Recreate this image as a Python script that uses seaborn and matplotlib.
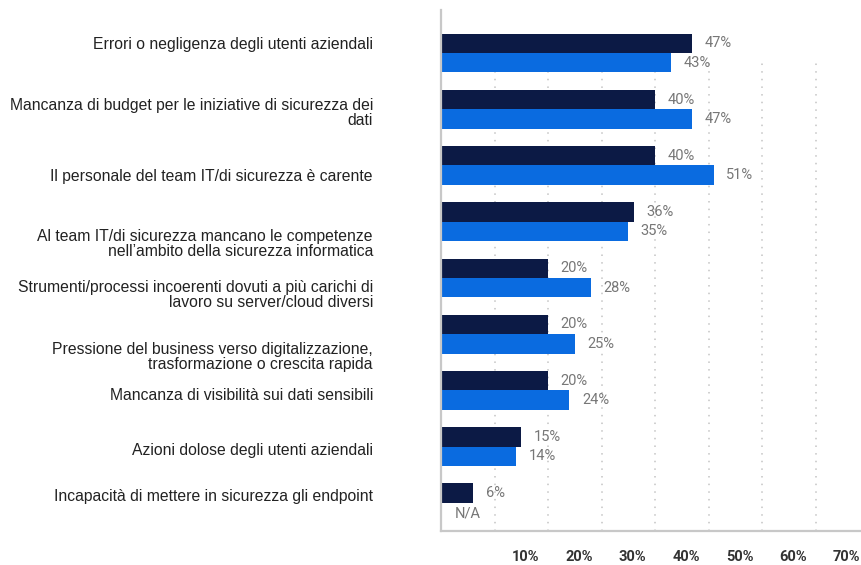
import matplotlib
matplotlib.use("Agg")
import matplotlib.pyplot as plt
import matplotlib.transforms as mtransforms
import seaborn as sns
import pandas as pd
import numpy as np

categories = [
    "Errori o negligenza degli utenti aziendali",
    "Mancanza di budget per le iniziative di sicurezza dei\ndati",
    "Il personale del team IT/di sicurezza è carente",
    "Al team IT/di sicurezza mancano le competenze\nnell’ambito della sicurezza informatica",
    "Strumenti/processi incoerenti dovuti a più carichi di\nlavoro su server/cloud diversi",
    "Pressione del business verso digitalizzazione,\ntrasformazione o crescita rapida",
    "Mancanza di visibilità sui dati sensibili",
    "Azioni dolose degli utenti aziendali",
    "Incapacità di mettere in sicurezza gli endpoint",
]
series_names = ["A", "B"]
series_a = [47, 40, 40, 36, 20, 20, 20, 15, 6]
series_b = [43, 47, 51, 35, 28, 25, 24, 14, np.nan]
x_ticks = [10, 20, 30, 40, 50, 60, 70]
x_tick_labels = ["10%", "20%", "30%", "40%", "50%", "60%", "70%"]

# layout: vertical offset of each category label relative to its bar group
label_offsets = [-0.16, 0.06, 0.2, 0.4, 0.30, 0.40, 0.09, 0.06, -0.11]

colors = ["#0c1a45", "#0a6be0"]

df = pd.DataFrame({
    "cat": categories * 2,
    "series": [series_names[0]] * len(categories) + [series_names[1]] * len(categories),
    "value": series_a + series_b,
})

sns.set_style("white")
fig = plt.figure(figsize=(8.61, 5.65), dpi=100)
ax = fig.add_axes([441 / 861, 1 - 531 / 565, 420 / 861, 521 / 565])

sns.barplot(data=df, y="cat", x="value", hue="series", order=categories,
            hue_order=series_names, palette=colors, orient="h", width=0.69,
            dodge=True, ax=ax, legend=False, saturation=1, errorbar=None)

for patch in ax.patches:
    patch.set_edgecolor("none")
    patch.set_zorder(2)

ax.set_xlim(0, 78.5)
ax.set_ylim(len(categories) - 0.5, -0.765)

# grid (dotted, starting below the first group)
for xv in x_ticks:
    ax.axvline(xv, ymin=0, ymax=(531 - 58) / 521, color="#c4c4c4",
               linestyle=(0, (1, 4)), linewidth=1.1, zorder=0)

ax.set_xticks([])
ax.set_yticks([])
ax.set_xlabel("")
ax.set_ylabel("")

# x tick labels, shifted right of their gridlines as in the original
xtrans = ax.get_xaxis_transform() + mtransforms.ScaledTranslation(
    31 / 100, -26 / 100, fig.dpi_scale_trans)
for xv, lab in zip(x_ticks, x_tick_labels):
    ax.text(xv, 0, lab, transform=xtrans, ha="center", va="center",
            fontsize=10.5, fontweight="bold", color="#333333", family="Roboto")

for side in ["top", "right"]:
    ax.spines[side].set_visible(False)
for side in ["left", "bottom"]:
    ax.spines[side].set_color("#c8c8c8")
    ax.spines[side].set_linewidth(1.6)

# category labels
ytrans = ax.get_yaxis_transform()
for i, (cat, off) in enumerate(zip(categories, label_offsets)):
    ax.text(-0.162, i + off, cat, transform=ytrans, ha="right", va="center",
            fontsize=11.3, color="#222222", family="Liberation Sans",
            linespacing=0.98)

# value labels
bar_w = 0.69 / 2
for s_idx, vals in enumerate([series_a, series_b]):
    for i, v in enumerate(vals):
        y = i - 0.69 / 4 + s_idx * bar_w
        if np.isnan(v):
            ax.annotate("N/A", xy=(0, y), xytext=(10, -1), textcoords="offset points",
                        ha="left", va="center", fontsize=10.5, color="#777777",
                        family="Roboto")
        else:
            ax.annotate(f"{int(v)}%", xy=(v, y), xytext=(9, 0), textcoords="offset points",
                        ha="left", va="center", fontsize=10.5, color="#777777",
                        family="Roboto")

fig.savefig("out.png", dpi=100)
